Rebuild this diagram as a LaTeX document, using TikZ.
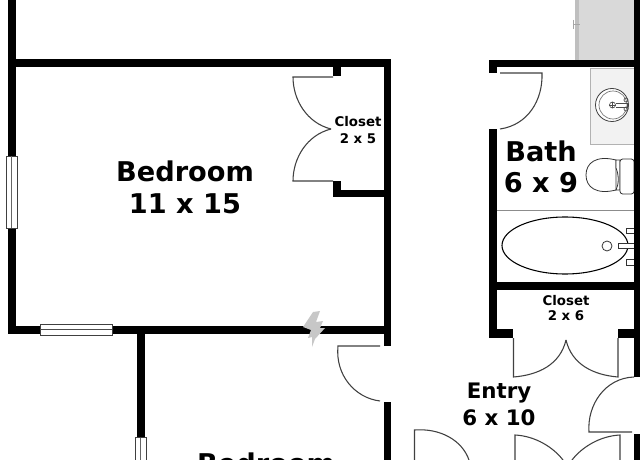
\documentclass[tikz,border=0pt]{standalone}
\usepackage{fontspec}
\setmainfont{DejaVu Sans}
\tikzset{
  wall/.style={fill=black,draw=none},
  doorline/.style={draw=black!75,line width=0.8pt},
  winframe/.style={draw=black!75,fill=white,line width=0.7pt},
  fixture/.style={draw=black!80,line width=0.6pt,fill=white},
  big/.style={font=\fontsize{20.4}{24}\selectfont\bfseries,inner sep=0pt},
  small/.style={font=\fontsize{10}{11}\selectfont\bfseries,inner sep=0pt},
  mid/.style={font=\fontsize{16}{18}\selectfont\bfseries,inner sep=0pt},
}
\begin{document}
\begin{tikzpicture}[x=0.75pt,y=-0.75pt]
\useasboundingbox (0,0) rectangle (640,460);
\clip (0,0) rectangle (640,460);
\fill[white] (0,0) rectangle (640,460);
% upper right grey area
\fill[black!15] (579,0) rectangle (634,60);
\fill[black!25] (575,0) rectangle (579,60);
\draw[black!35,line width=0.5pt] (573,20) -- (573,29) (573,24) -- (580,24);
% vanity
\draw[draw=black!30,fill=black!5,line width=0.6pt] (590.5,68) rectangle (634,144);
\draw[draw=black!75,fill=white,line width=0.6pt] (612,105) ellipse (16.5 and 16.5);
\draw[draw=black!55,line width=0.5pt] (613,105) ellipse (14 and 14);
\draw[black!70,line width=0.5pt] (612.5,105) circle (3);
\draw[black!70,line width=0.5pt] (609,105) -- (616,105) (612.5,102) -- (612.5,108);
\draw[black!70,line width=0.5pt] (616,103.5) -- (627,103.5) -- (627,107) -- (616,107);
\draw[black!70,line width=0.5pt] (626,100) circle (2) (626,109) circle (2);
% toilet
\draw[fixture] (616,160) .. controls (596,155) and (586,163) .. (586,175) .. controls (586,187) and (596,195) .. (616,190) -- cycle;
\draw[fixture] (616,168) .. controls (619,175) and (619,184) .. (616,190) -- (620,190) -- (620,160) -- (616,160) -- cycle;
\draw[fixture,rounded corners=2pt] (620,159) rectangle (634,194);
% tub
\draw[draw=black,line width=0.8pt,fill=white] (565,245.5) ellipse (63 and 28.5);
\draw[draw=black!80,line width=0.6pt] (607,246) circle (5);
\draw[fixture] (618,243) rectangle (634,248);
\draw[fixture] (626,228) rectangle (634,233);
\draw[fixture] (626,259.5) rectangle (634,265);
% thin divider
\draw[black!45,line width=0.7pt] (497,210) -- (634,210);
% walls
\fill[wall] (8,0) rectangle (15.5,156);
\fill[wall] (8,228) rectangle (15.5,333);
\fill[wall] (8,59) rectangle (391,67);
\fill[wall] (383.5,59) rectangle (391,346);
\fill[wall] (383.5,402) rectangle (391,460);
\fill[wall] (333,66) rectangle (341,76);
\fill[wall] (333,181) rectangle (341,197);
\fill[wall] (333,190) rectangle (384,197);
\fill[wall] (8,326) rectangle (40,333.5);
\fill[wall] (112,326) rectangle (384,333.5);
\fill[wall] (137,333) rectangle (144.5,437);
\fill[wall] (489,60) rectangle (640,67.5);
\fill[wall] (489,60) rectangle (497,73);
\fill[wall] (489,129) rectangle (497,338);
\fill[wall] (497,282) rectangle (634,290);
\fill[wall] (489,329) rectangle (513,338);
\fill[wall] (618,329) rectangle (634,338);
\fill[wall] (634,0) rectangle (640,377);
\fill[wall] (634,434) rectangle (640,460);
% windows
\draw[winframe] (6,156) rectangle (17.5,228);
\draw[black!60,line width=0.7pt] (11.7,156) -- (11.7,228);
\draw[winframe] (40,324) rectangle (112,335.5);
\draw[black!70,line width=0.7pt] (40,329.5) -- (112,329.5);
\draw[winframe] (135,437.5) rectangle (146,465);
\draw[black!60,line width=0.7pt] (140.5,437.5) -- (140.5,465);
% closet 2x5 doors
\draw[doorline] (333,77) -- (293,77) .. controls (293,100) and (307,123) .. (331,129);
\draw[doorline] (333,181) -- (293,181) .. controls (293,158) and (307,135) .. (331,129);
% bath door
\draw[doorline] (500,73) -- (542,73) .. controls (543,100) and (528,125) .. (500,129);
% closet 2x6 doors
\draw[doorline] (513.5,338) -- (513.5,377) .. controls (538,375) and (560,365) .. (566,340);
\draw[doorline] (618,338) -- (618,377) .. controls (594,375) and (572,365) .. (566,340);
% bedroom door
\draw[doorline] (380,346) -- (338,346) .. controls (335,375) and (355,398) .. (380,401);
% entry doors
\draw[doorline] (414.5,460) -- (414.5,430) .. controls (440,428) and (462,440) .. (469,460);
\draw[doorline] (515,460) -- (515,435) .. controls (535,436) and (553,447) .. (563,460);
\draw[doorline] (620,460) -- (620,435) .. controls (600,436) and (582,447) .. (572,460);
\draw[doorline] (632,432) -- (589,432) .. controls (587,405) and (605,378) .. (634,377);
% bolt
\fill[black!22] (313,312) -- (320,311) -- (316,322) -- (323,321) -- (320,328) -- (325,328) -- (315,339) -- (312,347) -- (312,337) -- (308,338) -- (311,330) -- (303,327) -- cycle;
% labels
\node[big] (bedA) at (185,171) {Bedroom};
\node[big] (bedAs) at (185,204) {11 x 15};
\node[small] (closA) at (358,122) {Closet};
\node[small] (closAs) at (358,139) {2 x 5};
\node[big] (bath) at (541,151) {Bath};
\node[big] (baths) at (541,183) {6 x 9};
\node[small] (closB) at (566,301) {Closet};
\node[small] (closBs) at (566,316) {2 x 6};
\node[mid] (entry) at (499,393) {Entry};
\node[mid] (entrys) at (499,418) {6 x 10};
\node[big] (bedB) at (266,463) {Bedroom};
\end{tikzpicture}
\end{document}
